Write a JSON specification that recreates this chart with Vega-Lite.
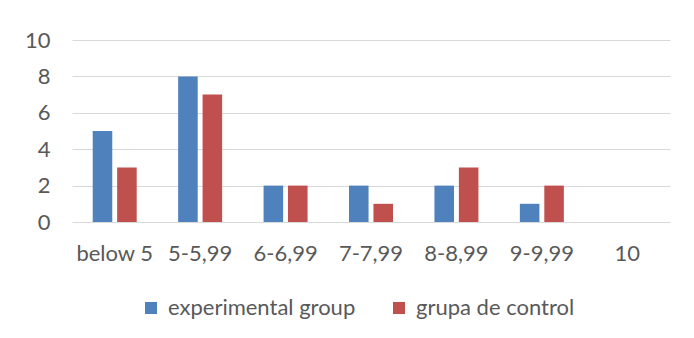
{
  "$schema": "https://vega.github.io/schema/vega-lite/v6.json",
  "autosize": {"type": "none"},
  "width": 598,
  "height": 182,
  "padding": {"left": 72, "top": 40, "right": 24, "bottom": 116},
  "background": "white",
  "data": {
    "values": [
      {"range": "below 5", "group": "experimental group", "count": 5},
      {"range": "below 5", "group": "grupa de control", "count": 3},
      {"range": "5-5,99", "group": "experimental group", "count": 8},
      {"range": "5-5,99", "group": "grupa de control", "count": 7},
      {"range": "6-6,99", "group": "experimental group", "count": 2},
      {"range": "6-6,99", "group": "grupa de control", "count": 2},
      {"range": "7-7,99", "group": "experimental group", "count": 2},
      {"range": "7-7,99", "group": "grupa de control", "count": 1},
      {"range": "8-8,99", "group": "experimental group", "count": 2},
      {"range": "8-8,99", "group": "grupa de control", "count": 3},
      {"range": "9-9,99", "group": "experimental group", "count": 1},
      {"range": "9-9,99", "group": "grupa de control", "count": 2},
      {"range": "10", "group": "experimental group", "count": 0},
      {"range": "10", "group": "grupa de control", "count": 0}
    ]
  },
  "mark": {"type": "bar"},
  "encoding": {
    "x": {
      "field": "range",
      "type": "nominal",
      "sort": null,
      "scale": {"paddingInner": 0.485, "paddingOuter": 0.2425},
      "axis": {
        "title": null,
        "labelAngle": 0,
        "domain": false,
        "ticks": false,
        "labelPadding": 21
      }
    },
    "xOffset": {
      "field": "group",
      "type": "nominal",
      "scale": {"paddingInner": 0.2, "paddingOuter": 0}
    },
    "y": {
      "field": "count",
      "type": "quantitative",
      "scale": {"domain": [0, 10], "nice": false},
      "axis": {
        "title": null,
        "values": [0, 2, 4, 6, 8, 10],
        "domain": false,
        "ticks": false,
        "labelPadding": 22,
        "gridColor": "#d9d9d9",
        "gridWidth": 1.2
      }
    },
    "color": {
      "field": "group",
      "type": "nominal",
      "scale": {"range": ["#4f81bd", "#c0504d"]},
      "legend": {
        "title": null,
        "orient": "none",
        "direction": "horizontal",
        "legendX": 68,
        "legendY": 257,
        "symbolType": "square",
        "symbolSize": 144,
        "symbolStrokeWidth": 0,
        "labelOffset": 6,
        "columnPadding": 32,
        "padding": 0
      }
    }
  },
  "config": {
    "view": {"stroke": null},
    "font": "Lato",
    "axis": {"labelFont": "Lato", "labelFontSize": 22, "labelColor": "#595959"},
    "legend": {"labelFont": "Lato", "labelFontSize": 22, "labelColor": "#595959", "labelLimit": 400}
  }
}
